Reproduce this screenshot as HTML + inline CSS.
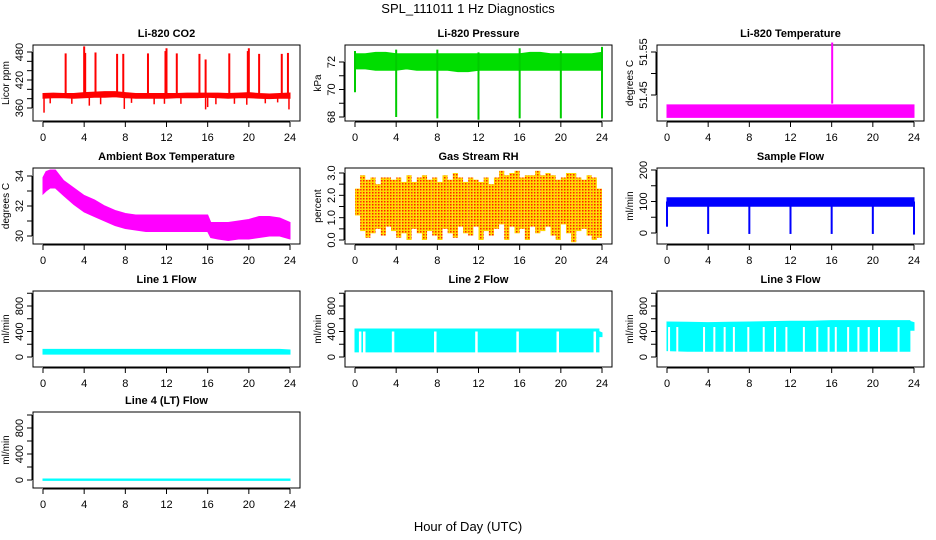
<!DOCTYPE html>
<html><head><meta charset="utf-8"><title>SPL_111011 1 Hz Diagnostics</title>
<style>
html,body{margin:0;padding:0;background:#fff;}
svg{display:block;font-family:"Liberation Sans",sans-serif;}
</style></head>
<body>
<svg id="chart" width="936" height="540" viewBox="0 0 936 540">
<defs>
<pattern id="rhpat" width="3" height="3" patternUnits="userSpaceOnUse">
<rect width="3" height="3" fill="#ffd800"/><rect width="1.5" height="1.5" fill="#ff2000"/>
</pattern>
</defs>
<text x="468" y="13" text-anchor="middle" font-size="13">SPL_111011  1 Hz Diagnostics</text>
<text x="468" y="531" text-anchor="middle" font-size="13">Hour of Day (UTC)</text>
</svg>
<script>
// ---------- data ----------
const xTicks = [0,4,8,12,16,20,24];
const envHours = [0,1,2,3,4,5,6,7,8,9,10,11,12,13,14,15,16,17,18,19,20,21,22,23,24];

const co2Lo = [381,382,382,381,382,383,383,384,382,381,381,381,381,382,382,382,383,382,381,382,382,381,380,381,381];
const co2Hi = [391,392,391,391,393,394,395,395,393,391,391,391,391,391,392,392,392,392,391,392,393,391,390,391,392];
const co2SpikeHours = [2.2,4.0,4.1,5.1,7.2,7.8,10.2,11.9,12.0,13.0,15.2,15.8,18.1,19.9,20.0,21.0,23.2,23.8];
const co2SpikeMax = [477,492,478,479,476,476,477,482,488,477,476,464,477,482,488,476,476,478];
const co2DipHours = [0.1,0.7,2.8,4.5,5.6,7.9,8.6,10.8,11.8,13.4,15.8,16.0,16.8,18.6,19.8,21.6,22.8,23.9];
const co2DipMin = [350,370,369,365,368,358,371,368,369,369,357,362,368,369,367,370,372,357];

const presLo = [71.5,71.5,71.4,71.4,71.4,71.5,71.4,71.4,71.4,71.4,71.3,71.3,71.4,71.4,71.4,71.4,71.4,71.4,71.4,71.4,71.4,71.4,71.4,71.4,71.4];
const presHi = [72.6,72.6,72.7,72.7,72.6,72.6,72.6,72.6,72.6,72.6,72.6,72.6,72.6,72.6,72.6,72.6,72.6,72.7,72.7,72.6,72.6,72.6,72.6,72.6,72.7];
const presDipHours = [0,4,8,12,16,20,24];
const presDipMin = [69.8,68.0,67.9,67.8,67.9,67.9,67.9];
const presDipMax = [72.8,72.9,72.9,72.7,73.0,72.8,73.1];

const tempLo = [51.398,51.398,51.398,51.398,51.398,51.398,51.398,51.398,51.398,51.398,51.398,51.398,51.398,51.398,51.398,51.398,51.398,51.398,51.398,51.398,51.398,51.398,51.398,51.398,51.398];
const tempHi = [51.427,51.427,51.427,51.427,51.427,51.427,51.427,51.427,51.427,51.427,51.427,51.427,51.427,51.427,51.427,51.427,51.427,51.427,51.427,51.427,51.427,51.427,51.427,51.427,51.427];
const tempSpikeHours = [16.05];
const tempSpikeMax = [51.572];

const ambHours = [0,0.3,0.7,1.2,2,3,4,5,6,7,8,9,10,11,12,13,14,15,16,16.3,17,18,19,20,21,22,23,24];
const ambLo = [32.8,33.0,33.2,33.2,32.7,32.1,31.6,31.3,31.0,30.7,30.5,30.4,30.3,30.3,30.3,30.3,30.3,30.3,30.3,29.9,29.8,29.7,29.8,29.8,29.9,30.0,30.0,29.8];
const ambHi = [33.9,34.3,34.4,34.4,33.7,33.2,32.7,32.4,32.0,31.7,31.5,31.4,31.4,31.4,31.4,31.4,31.4,31.4,31.4,30.9,30.9,30.9,31.0,31.1,31.3,31.3,31.2,30.9];

const rhHours = [0,0.5,1,1.5,2,2.5,3,3.5,4,4.5,5,5.5,6,6.5,7,7.5,8,8.5,9,9.5,10,10.5,11,11.5,12,12.5,13,13.5,14,14.5,15,15.5,16,16.5,17,17.5,18,18.5,19,19.5,20,20.5,21,21.5,22,22.5,23,23.5];
const rhLo = [1.1,0.4,0.1,0.3,0.5,0.2,0.6,0.4,0.1,0.3,0.0,0.5,0.3,0.0,0.4,0.2,0.0,0.5,0.3,0.1,0.6,0.3,0.2,0.6,0.0,0.4,0.2,0.5,0.7,0.0,0.6,0.3,0.5,0.0,0.6,0.3,0.4,0.6,0.2,0.0,0.7,0.3,-0.1,0.4,0.5,0.2,0.0,0.1];
const rhHi = [2.3,2.9,2.7,2.8,2.5,2.8,2.8,2.7,2.8,2.6,2.9,2.6,2.8,2.9,2.7,2.8,2.6,2.9,2.7,3.0,2.8,2.6,2.8,2.7,2.6,2.8,2.5,2.8,3.1,2.9,3.0,3.1,2.8,2.9,2.9,3.1,2.9,3.0,2.9,2.7,2.8,3.0,3.0,2.8,2.7,2.9,2.8,2.3];

const sfLo = [85,85,85,85,85,85,85,85,85,85,85,85,85,85,85,85,85,85,85,85,85,85,85,85,85];
const sfHi = [112,112,112,112,112,112,112,112,112,112,112,112,112,112,112,112,112,112,112,112,112,112,112,112,112];
const sfDipHours = [0,4,8,12,16,20,24];
const sfDipMin = [20,-3,-3,-3,-3,-3,-5];

const l1Lo = [45,45,45,45,45,45,45,45,45,45,45,45,45,45,45,45,45,45,45,45,45,45,45,45,45];
const l1Hi = [120,120,120,120,120,120,120,120,120,120,120,120,120,120,120,120,120,120,120,120,120,120,120,120,110];

const l2Hours = [0,2,4,6,8,10,12,14,16,18,20,22,23.7,23.7,24];
const l2Lo = [80,80,80,80,80,80,80,80,80,80,80,80,80,320,320];
const l2Hi = [440,440,440,440,440,440,440,440,440,440,440,440,440,400,380];
const l2GapHours = [0.5,0.9,3.7,7.8,11.8,15.8,19.7,23.3];

const l3Hours = [0,2,4,6,8,10,12,14,16,18,20,22,23.6,23.6,24];
const l3Lo = [100,90,90,90,90,90,90,90,90,90,90,90,90,420,420];
const l3Hi = [550,545,540,545,550,555,560,560,570,570,570,570,570,560,540];
const l3GapHours = [0.2,1.0,3.6,4.6,5.6,6.5,7.9,9.4,10.5,11.6,13.3,14.6,15.7,16.4,17.6,18.6,19.6,20.6,22.5];

const l4Lo = [-5,-5,-5,-5,-5,-5,-5,-5,-5,-5,-5,-5,-5,-5,-5,-5,-5,-5,-5,-5,-5,-5,-5,-5,-5];
const l4Hi = [15,15,15,15,15,15,15,15,15,15,15,15,15,15,15,15,15,15,15,15,15,15,15,15,15];

// ---------- layout ----------
const NS = "http://www.w3.org/2000/svg";
const svg = document.getElementById('chart');
const colLeft = [33,345,657];
const rowTop = [45,168,291,412];
const BW = 267, BH = 76;

function mk(tag, attrs, parent){
  const e = document.createElementNS(NS, tag);
  for (const k in attrs) e.setAttribute(k, attrs[k]);
  (parent||svg).appendChild(e);
  return e;
}

function makePanel(col,row,title,ylab,cal,yTicks,yLabels,yFmt){
  const L = colLeft[col], T = rowTop[row];
  const g = mk('g',{});
  
  
  const x0 = L + 10, x1 = L + 257;
  const xs = h => x0 + (x1 - x0) * h / 24;
  const ys = v => T + cal[1] + (v - cal[0]) * (cal[3] - cal[1]) / (cal[2] - cal[0]);
  const t = mk('text',{x:L+BW/2,y:T-8,'text-anchor':'middle','font-size':11,'font-weight':'bold'},g);
  t.textContent = title;
  
  
  const box = mk('rect',{x:L,y:T,width:BW,height:BH,fill:'none',stroke:'#000','stroke-width':1},g);
  
  
  const xa = mk('g',{},g);
  
  
  mk('line',{x1:xs(0),x2:xs(24),y1:T+BH+1,y2:T+BH+1,stroke:'#000'},xa);
  xTicks.forEach(h=>{
    mk('line',{x1:xs(h),x2:xs(h),y1:T+BH+1,y2:T+BH+6,stroke:'#000'},xa);
    const tl = mk('text',{x:xs(h),y:T+BH+20,'text-anchor':'middle','font-size':11},xa);
    tl.textContent = h;
    
    
  });
  const ya = mk('g',{},g);
  
  
  mk('line',{x1:L-1,x2:L-1,y1:ys(yTicks[0]),y2:ys(yTicks[yTicks.length-1]),stroke:'#000'},ya);
  yTicks.forEach(v=>mk('line',{x1:L-6,x2:L-1,y1:ys(v),y2:ys(v),stroke:'#000'},ya));
  yLabels.forEach(v=>{
    const y = ys(v);
    const tl = mk('text',{x:L-10,y:y,'text-anchor':'middle','font-size':11,transform:`rotate(-90 ${L-10} ${y})`},ya);
    tl.textContent = yFmt ? yFmt(v) : v;
    
    
  });
  const yt = mk('text',{x:L-24,y:T+BH/2,'text-anchor':'middle','font-size':10,transform:`rotate(-90 ${L-24} ${T+BH/2})`},g);
  yt.textContent = ylab;
  
  
  const plot = mk('g',{},g);
  
  
  return {xs,ys,g:plot};
}

function band(p,hours,lo,hi,fill,name){
  let pts = hours.map((h,i)=>`${p.xs(h)},${p.ys(hi[i])}`);
  for (let i=hours.length-1;i>=0;i--) pts.push(`${p.xs(hours[i])},${p.ys(lo[i])}`);
  const e = mk('polygon',{points:pts.join(' '),fill:fill,stroke:fill,'stroke-width':1},p.g);
  
  
}
function vlines(p,hours,lo,hi,color,w,name){
  hours.forEach((h,i)=>{
    const e = mk('line',{x1:p.xs(h),x2:p.xs(h),y1:p.ys(lo[i]),y2:p.ys(hi[i]),stroke:color,'stroke-width':w},p.g);
    
    
  });
}
function bars(p,hours,lo,hi,fill,name){
  const w = p.xs(0.5)-p.xs(0);
  hours.forEach((h,i)=>{
    const e = mk('rect',{x:p.xs(h),y:p.ys(hi[i]),width:w,height:p.ys(lo[i])-p.ys(hi[i]),fill:fill},p.g);
    
    
  });
}

// CO2
let p = makePanel(0,0,'Li-820 CO2','Licor ppm',[360,63,480,7],[360,380,400,420,440,460,480],[360,420,480]);
band(p,envHours,co2Lo,co2Hi,'#ff0000','co2-band');
vlines(p,co2SpikeHours,co2SpikeHours.map(()=>386),co2SpikeMax,'#ff0000',2,'co2-spike');
vlines(p,co2DipHours,co2DipMin,co2DipHours.map(()=>386),'#ff0000',1.5,'co2-dip');

// Pressure
p = makePanel(1,0,'Li-820 Pressure','kPa',[68,72,72,17],[68,69,70,71,72],[68,70,72]);
band(p,envHours,presLo,presHi,'#00dd00','pressure-band');
vlines(p,presDipHours,presDipMin,presDipMax,'#00cc00',2,'pressure-dip');

// Li temperature
p = makePanel(2,0,'Li-820 Temperature','degrees C',[51.45,50,51.55,7],[51.45,51.50,51.55],[51.45,51.55],v=>v.toFixed(2));
band(p,envHours,tempLo,tempHi,'#ff00ff','li-temp-band');
vlines(p,tempSpikeHours,[51.43],tempSpikeMax,'#ff00ff',2,'li-temp-spike');

// Ambient
p = makePanel(0,1,'Ambient Box Temperature','degrees C',[30,68,34,8],[30,31,32,33,34],[30,32,34]);
band(p,ambHours,ambLo,ambHi,'#ff00ff','ambient-temp-band');

// RH
p = makePanel(1,1,'Gas Stream RH','percent',[0,72,3,5],[0,0.5,1,1.5,2,2.5,3],[0,1,2,3],v=>v.toFixed(1));
bars(p,rhHours,rhLo,rhHi,'url(#rhpat)','rh-bar');

// Sample flow
p = makePanel(2,1,'Sample Flow','ml/min',[0,65,200,2],[0,50,100,150,200],[0,100,200]);
band(p,envHours,sfLo,sfHi,'#0000ff','sample-flow-band');
vlines(p,sfDipHours,sfDipMin,sfDipHours.map(()=>100),'#0000ff',2,'sample-flow-dip');

// Line flows
const fT=[0,200,400,600,800,1000], fL=[0,400,800];
p = makePanel(0,2,'Line 1 Flow','ml/min',[0,66,800,15],fT,fL);
band(p,envHours,l1Lo,l1Hi,'#00ffff','line1-band');

p = makePanel(1,2,'Line 2 Flow','ml/min',[0,66,800,15],fT,fL);
band(p,l2Hours,l2Lo,l2Hi,'#00ffff','line2-band');
vlines(p,l2GapHours,l2GapHours.map(()=>70),l2GapHours.map(()=>400),'#ffffff',2.5,'line2-gap');

p = makePanel(2,2,'Line 3 Flow','ml/min',[0,66,800,15],fT,fL);
band(p,l3Hours,l3Lo,l3Hi,'#00ffff','line3-band');
vlines(p,l3GapHours,l3GapHours.map(()=>80),l3GapHours.map(()=>470),'#ffffff',2,'line3-gap');

p = makePanel(0,3,'Line 4 (LT) Flow','ml/min',[0,68,800,16],fT,fL);
band(p,envHours,l4Lo,l4Hi,'#00ffff','line4-band');
</script>
</body></html>
